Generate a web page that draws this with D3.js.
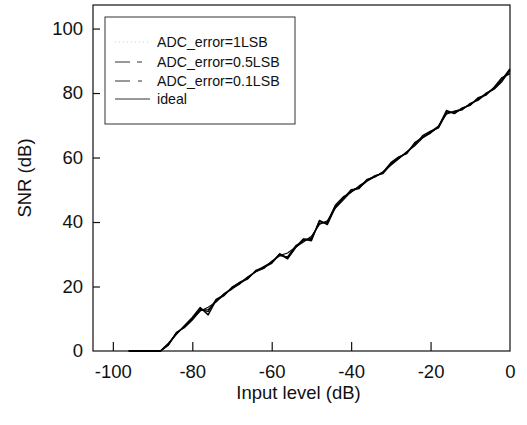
<!DOCTYPE html>
<html><head><meta charset="utf-8">
<script src="https://cdn.jsdelivr.net/npm/d3@7/dist/d3.min.js"></script>
<style>body{margin:0;background:#fff}svg{display:block}text{font-family:"Liberation Sans",Arial,sans-serif;fill:#111}</style>
</head><body><svg id="c" width="527" height="425"></svg>
<script>
const inputLevel = [-96,-94,-92,-90,-88,-86,-84,-82,-80,-78,-76,-74,-72,-70,-68,-66,-64,-62,-60,-58,-56,-54,-52,-50,-48,-46,-44,-42,-40,-38,-36,-34,-32,-30,-28,-26,-24,-22,-20,-18,-16,-14,-12,-10,-8,-6,-4,-2,0];
const snr1LSB   = [0,0,0,0,0,2.4,5.2,7.8,10.4,13.5,11.2,15.8,17.2,19.8,21.2,22.4,25.0,26.0,27.2,30.0,28.6,32.0,34.6,34.2,40.5,39.2,44.5,47.2,50.0,50.4,53.2,54.0,55.4,58.4,60.2,61.2,64.6,66.2,67.6,69.6,74.6,73.6,75.4,76.2,78.6,79.4,81.8,84.8,86.0];
const snr05LSB  = [0,0,0,0,0,1.8,5.8,7.2,9.6,12.6,12.8,15.4,17.8,19.2,21.0,23.0,24.6,25.6,27.8,29.6,29.2,32.6,34.2,35.0,39.6,40.0,45.2,47.8,49.2,51.2,52.8,54.4,55.0,57.8,59.8,61.8,63.8,66.8,68.2,69.2,73.8,74.2,74.8,76.8,77.8,79.8,81.2,83.6,87.2];
const snr01LSB  = [0,0,0,0,0,2.0,5.4,7.6,10.0,13.0,12.2,16.0,17.4,19.6,21.4,22.6,24.8,25.8,27.4,30.2,28.8,32.2,34.8,34.6,40.2,39.6,44.8,47.4,49.6,50.8,53.0,54.2,55.2,58.0,60.0,61.4,64.2,66.4,67.8,69.4,74.2,73.8,75.2,76.4,78.2,79.6,81.6,84.2,87.6];
const snrIdeal  = [0,0,0,0,0,2.2,5.6,7.4,9.8,12.4,13.6,15.2,17.6,19.4,20.8,22.8,24.6,26.2,27.6,29.6,30.4,32.2,33.8,35.6,39.2,40.4,44.2,46.8,49.4,50.6,52.6,54.0,55.6,57.6,59.6,61.6,63.6,66.0,68.0,69.8,73.4,74.4,75.0,76.6,78.0,80.0,81.4,84.0,86.8];
const seriesNames = ["ADC_error=1LSB","ADC_error=0.5LSB","ADC_error=0.1LSB","ideal"];
const xTicks = [-100,-80,-60,-40,-20,0];
const yTicks = [0,20,40,60,80,100];

const svg = d3.select("#c");
const W = 527, H = 425;
svg.append("rect").attr("width",W).attr("height",H).attr("fill","#fff");
const L = 93, R = 510, T = 5, B = 351;
const x = d3.scaleLinear().domain([-105,0]).range([L,R]);
const y = d3.scaleLinear().domain([0,107.3]).range([B,T]);

const ink = "#111";
svg.append("rect").attr("x",L).attr("y",T).attr("width",R-L).attr("height",B-T)
  .attr("fill","none").attr("stroke",ink).attr("stroke-width",1.2);

const fmt = d => String(d);
const gx = svg.append("g").attr("transform",`translate(0,${B})`)
  .call(d3.axisBottom(x).tickValues(xTicks).tickSize(-9).tickPadding(14).tickFormat(fmt));
const gy = svg.append("g").attr("transform",`translate(${L},0)`)
  .call(d3.axisLeft(y).tickValues(yTicks).tickSize(-7).tickPadding(10).tickFormat(fmt));
[gx,gy].forEach(g=>{
  g.select(".domain").remove();
  g.selectAll(".tick line").attr("stroke",ink).attr("stroke-width",1.2);
  g.selectAll(".tick text").attr("font-size",18.5).attr("font-family","Liberation Sans, Arial, sans-serif").attr("fill",ink);
});
gx.selectAll(".tick").filter(d=>d===0).select("line").remove();
gy.selectAll(".tick").filter(d=>d===0).select("line").remove();

svg.append("text").attr("x",(L+R)/2-3).attr("y",399).attr("text-anchor","middle")
  .attr("font-size",18.5).text("Input level (dB)");
svg.append("text").attr("transform",`translate(31,${(T+B)/2}) rotate(-90)`).attr("text-anchor","middle")
  .attr("font-size",18.5).text("SNR (dB)");

const seriesData = [snr1LSB, snr05LSB, snr01LSB, snrIdeal];
const widths = [1.4,1.3,1.3,1.1];
const line = d3.line().x((d,i)=>x(inputLevel[i])).y(d=>y(d));
seriesData.forEach((s,k)=>{
  svg.append("path").datum(s).attr("d",line).attr("fill","none")
    .attr("stroke","#000").attr("stroke-width",widths[k])
    .attr("stroke-linejoin","round");
});

const lg = svg.append("g");
lg.append("rect").attr("x",105).attr("y",17).attr("width",190).attr("height",107)
  .attr("fill","#fff").attr("stroke","#333").attr("stroke-width",1);
const legDash = ["1,3","15,7,5,20","15,8,4,20",null];
const legColor = ["#ccc","#333","#333","#333"];
const rowsY = [42,62,81,99];
seriesNames.forEach((n,i)=>{
  lg.append("line").attr("x1",115).attr("x2",150).attr("y1",rowsY[i]).attr("y2",rowsY[i])
    .attr("stroke",legColor[i]).attr("stroke-width",1).attr("stroke-dasharray",legDash[i]);
  lg.append("text").attr("x",157).attr("y",rowsY[i]+5).attr("font-size",14.2).attr("fill","#111").text(n);
});
</script></body></html>
